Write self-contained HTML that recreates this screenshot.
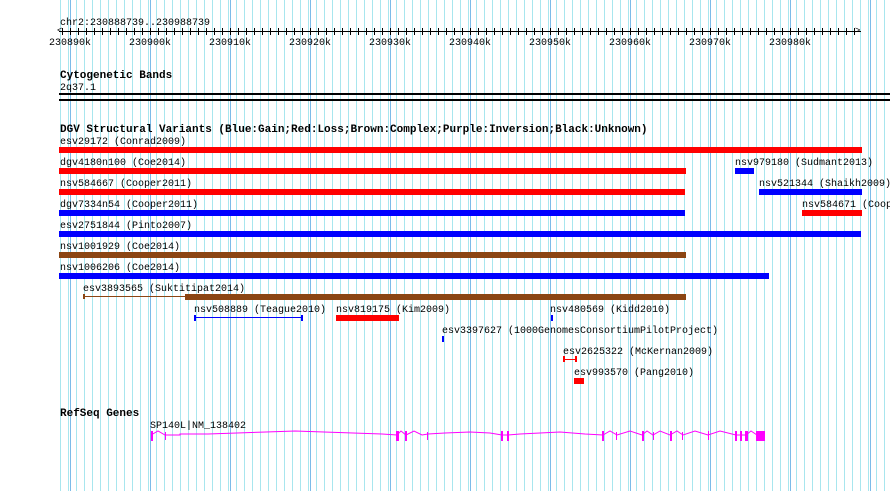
<!DOCTYPE html>
<html><head><style>
body{margin:0;width:890px;height:491px;background:#fff;position:relative;overflow:hidden;font-family:"Liberation Mono",monospace;font-size:10px;color:#000}
.grid{position:absolute;left:59px;top:0;width:831px;height:491px;
background:
repeating-linear-gradient(90deg,transparent 0,transparent 11px,#7cbbe8 11px,#7cbbe8 12px,transparent 12px,transparent 80px),
repeating-linear-gradient(90deg,transparent 0,transparent 1px,#a8e6ee 1px,#a8e6ee 2px,transparent 2px,transparent 8px);}
.t{position:absolute;white-space:pre;line-height:10px;padding-top:3px}
.b{font-weight:bold;font-size:11px}
.bar{position:absolute;height:6px}
.r{background:#f00}.bl{background:#00f}.br{background:#8b4513}
.ticks{position:absolute;left:62px;top:28px;width:798px;height:7px;background:repeating-linear-gradient(90deg,#000 0,#000 1px,transparent 1px,transparent 8px)}
</style></head><body>
<div class="grid"></div>
<div class="t" style="left:60px;top:16px">chr2:230888739..230988739</div>
<div style="position:absolute;left:59px;top:31px;width:802px;height:1px;background:#000"></div>
<div class="ticks"></div>
<div class="t" style="left:57px;top:23px;font-size:9px">&lt;</div>
<div class="t" style="left:855px;top:23px;font-size:9px">&gt;</div>
<div class="t" style="left:49px;top:36px">230890k</div>
<div class="t" style="left:129px;top:36px">230900k</div>
<div class="t" style="left:209px;top:36px">230910k</div>
<div class="t" style="left:289px;top:36px">230920k</div>
<div class="t" style="left:369px;top:36px">230930k</div>
<div class="t" style="left:449px;top:36px">230940k</div>
<div class="t" style="left:529px;top:36px">230950k</div>
<div class="t" style="left:609px;top:36px">230960k</div>
<div class="t" style="left:689px;top:36px">230970k</div>
<div class="t" style="left:769px;top:36px">230980k</div>
<div class="t b" style="left:60px;top:68px">Cytogenetic Bands</div>
<div class="t" style="left:60px;top:81px">2q37.1</div>
<div style="position:absolute;left:59px;top:93px;width:831px;height:2px;background:#000"></div>
<div style="position:absolute;left:59px;top:99px;width:831px;height:2px;background:#000"></div>
<div class="t b" style="left:60px;top:122px">DGV Structural Variants (Blue:Gain;Red:Loss;Brown:Complex;Purple:Inversion;Black:Unknown)</div>

<div class="t" style="left:60px;top:135px">esv29172 (Conrad2009)</div>
<div class="bar r" style="left:59px;top:147px;width:803px"></div>
<div class="t" style="left:60px;top:156px">dgv4180n100 (Coe2014)</div>
<div class="bar r" style="left:59px;top:168px;width:627px"></div>
<div class="t" style="left:735px;top:156px">nsv979180 (Sudmant2013)</div>
<div class="bar bl" style="left:735px;top:168px;width:19px"></div>
<div class="t" style="left:60px;top:177px">nsv584667 (Cooper2011)</div>
<div class="bar r" style="left:59px;top:189px;width:626px"></div>
<div class="t" style="left:759px;top:177px">nsv521344 (Shaikh2009)</div>
<div class="bar bl" style="left:759px;top:189px;width:103px"></div>
<div class="t" style="left:60px;top:198px">dgv7334n54 (Cooper2011)</div>
<div class="bar bl" style="left:59px;top:210px;width:626px"></div>
<div class="t" style="left:802px;top:198px">nsv584671 (Cooper2011)</div>
<div class="bar r" style="left:802px;top:210px;width:60px"></div>
<div class="t" style="left:60px;top:219px">esv2751844 (Pinto2007)</div>
<div class="bar bl" style="left:59px;top:231px;width:802px"></div>
<div class="t" style="left:60px;top:240px">nsv1001929 (Coe2014)</div>
<div class="bar br" style="left:59px;top:252px;width:627px"></div>
<div class="t" style="left:60px;top:261px">nsv1006206 (Coe2014)</div>
<div class="bar bl" style="left:59px;top:273px;width:710px"></div>
<div class="t" style="left:83px;top:282px">esv3893565 (Suktitipat2014)</div>
<div style="position:absolute;left:83px;top:296px;width:102px;height:1px;background:#8b4513"></div>
<div style="position:absolute;left:83px;top:294px;width:2px;height:5px;background:#8b4513"></div>
<div class="bar br" style="left:185px;top:294px;width:501px"></div>
<div class="t" style="left:194px;top:303px">nsv508889 (Teague2010)</div>
<div style="position:absolute;left:194px;top:317px;width:108px;height:1px;background:#00f"></div>
<div style="position:absolute;left:194px;top:315px;width:2px;height:6px;background:#00f"></div>
<div style="position:absolute;left:301px;top:315px;width:2px;height:6px;background:#00f"></div>
<div class="t" style="left:336px;top:303px">nsv819175 (Kim2009)</div>
<div class="bar r" style="left:336px;top:315px;width:63px"></div>
<div class="t" style="left:550px;top:303px">nsv480569 (Kidd2010)</div>
<div class="bar bl" style="left:551px;top:315px;width:2px"></div>
<div class="t" style="left:442px;top:324px">esv3397627 (1000GenomesConsortiumPilotProject)</div>
<div class="bar bl" style="left:442px;top:336px;width:2px"></div>
<div class="t" style="left:563px;top:345px">esv2625322 (McKernan2009)</div>
<div style="position:absolute;left:563px;top:359px;width:13px;height:1px;background:#f00"></div>
<div style="position:absolute;left:563px;top:356px;width:2px;height:6px;background:#f00"></div>
<div style="position:absolute;left:575px;top:356px;width:2px;height:6px;background:#f00"></div>
<div class="t" style="left:574px;top:366px">esv993570 (Pang2010)</div>
<div class="bar r" style="left:574px;top:378px;width:10px"></div>
<div class="t b" style="left:60px;top:406px">RefSeq Genes</div>
<div class="t" style="left:150px;top:419px">SP140L|NM_138402</div>
<svg style="position:absolute;left:0;top:0" width="890" height="491">
<polyline fill="none" stroke="#f0f" stroke-width="1" points="151,435 158,431 165,435 180,435 180,434 208,434 237,433 266,432 295,431 324,432 353,433 382,434 397,435 401,431 406,435 414,431 422,435 428,434 445,433 470,432 490,433 502,435 508,435 520,434 540,433 560,432 585,434 603,435 610,431 617,435 630,431 642,435 647,431 653,435 660,431 670,435 677,431 683,435 695,431 708,435 720,431 736,435 741,435 746,435 751,431 757,435"/>
<g fill="#f0f">
<rect x="151" y="431" width="2" height="10"/><rect x="165" y="432" width="1" height="8"/>
<rect x="396" y="431" width="3" height="10"/><rect x="405" y="431" width="2" height="10"/><rect x="427" y="432" width="1" height="8"/>
<rect x="501" y="431" width="2" height="10"/><rect x="507" y="431" width="2" height="10"/>
<rect x="602" y="431" width="2" height="10"/><rect x="616" y="432" width="1" height="8"/>
<rect x="642" y="431" width="2" height="10"/><rect x="653" y="432" width="1" height="8"/>
<rect x="670" y="431" width="2" height="10"/><rect x="682" y="432" width="1" height="8"/>
<rect x="708" y="431" width="1" height="9"/>
<rect x="735" y="431" width="2" height="10"/><rect x="740" y="431" width="2" height="10"/><rect x="745" y="431" width="3" height="10"/>
<rect x="756" y="431" width="9" height="10"/>
</g></svg>
</body></html>
